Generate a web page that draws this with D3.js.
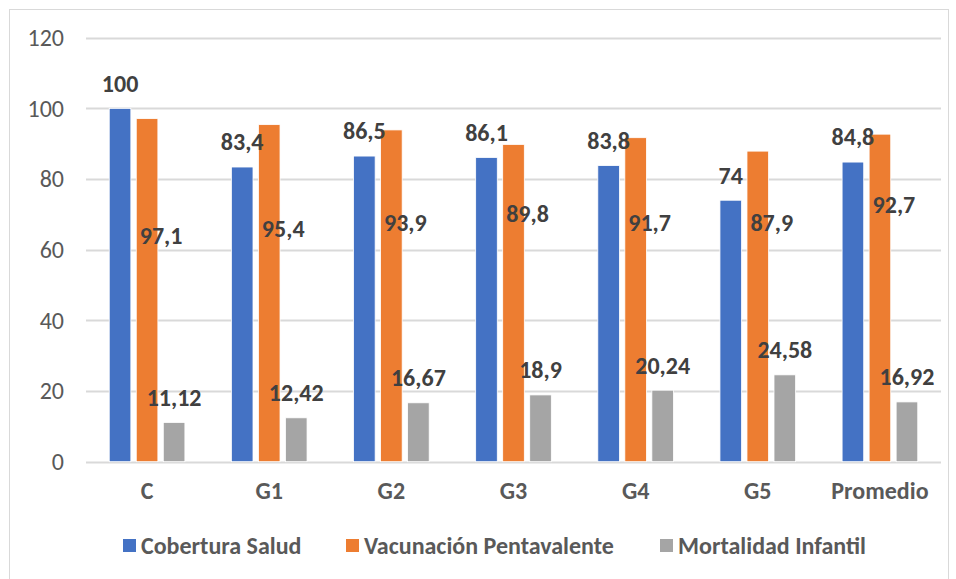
<!DOCTYPE html>
<html>
<head>
<meta charset="utf-8">
<script src="https://cdn.jsdelivr.net/npm/d3@7"></script>
<style>
  body { margin: 0; background: #fff; }
  text { font-family: Carlito, Lato, "Open Sans", sans-serif; }
</style>
</head>
<body>
<svg width="956" height="579"></svg>
<script>
// data
const categories = ["C", "G1", "G2", "G3", "G4", "G5", "Promedio"];
const seriesNames = ["Cobertura Salud", "Vacunación Pentavalente", "Mortalidad Infantil"];
const cobertura = [100, 83.4, 86.5, 86.1, 83.8, 74, 84.8];
const vacunacion = [97.1, 95.4, 93.9, 89.8, 91.7, 87.9, 92.7];
const mortalidad = [11.12, 12.42, 16.67, 18.9, 20.24, 24.58, 16.92];
// where the orange labels were dragged to (in axis units)
const vacunacionLabelAt = [63.9, 66.1, 67.8, 70.1, 67.8, 67.6, 72.9];
const yTicks = [0, 20, 40, 60, 80, 100, 120];

const colors = ["#4472C4", "#ED7D31", "#A5A5A5"];
const seriesValues = [cobertura, vacunacion, mortalidad];
const fontSize = "24px";

const svg = d3.select("svg");

// chart frame
svg.append("rect")
  .attr("x", 9.5).attr("y", 9.5)
  .attr("width", 939).attr("height", 580)
  .attr("fill", "none")
  .attr("stroke", "#d9d9d9");

const x0 = d3.scaleBand()
  .domain(categories)
  .range([86, 941]);

const x1 = d3.scaleBand()
  .domain(seriesNames)
  .range([0, x0.bandwidth()])
  .paddingInner(0.2)
  .paddingOuter(0.86);

const y = d3.scaleLinear()
  .domain([0, 120])
  .range([461.7, 37.7]);

// gridlines
svg.append("g")
  .selectAll("line")
  .data(yTicks)
  .enter()
  .append("line")
  .attr("x1", 86).attr("x2", 941)
  .attr("y1", (d) => Math.round(y(d)) + 0.5)
  .attr("y2", (d) => Math.round(y(d)) + 0.5)
  .attr("stroke", "#d9d9d9")
  .attr("stroke-width", 2);

// y axis labels
const yAxis = svg.append("g")
  .attr("transform", "translate(64,0)")
  .call(d3.axisLeft(y).tickValues(yTicks).tickSize(0).tickPadding(0));
yAxis.select(".domain").remove();
yAxis.selectAll("text")
  .attr("fill", "#595959")
  .style("font-size", fontSize);

// x axis labels
const xAxis = svg.append("g")
  .attr("transform", "translate(0,461.7)")
  .call(d3.axisBottom(x0).tickSize(0).tickPadding(20));
xAxis.select(".domain").remove();
xAxis.selectAll("text")
  .attr("fill", "#595959")
  .style("font-size", fontSize)
  .style("font-weight", "bold");

// bars
const rows = categories.map((c, i) => ({
  cat: c,
  vals: seriesNames.map((s, k) => ({ key: s, k: k, value: seriesValues[k][i], i: i })),
}));

const groups = svg.append("g")
  .selectAll("g")
  .data(rows)
  .enter()
  .append("g")
  .attr("transform", (d) => `translate(${x0(d.cat)},0)`);

groups.selectAll("rect")
  .data((d) => d.vals)
  .enter()
  .append("rect")
  .attr("x", (d) => x1(d.key))
  .attr("y", (d) => y(d.value))
  .attr("width", x1.bandwidth())
  .attr("height", (d) => y(0) - y(d.value))
  .attr("fill", (d) => colors[d.k])
  .attr("stroke", "#fff")
  .attr("stroke-width", 0.8);

// data labels
groups.selectAll("text")
  .data((d) => d.vals)
  .enter()
  .append("text")
  .attr("x", (d) => x1(d.key) + x1.bandwidth() / 2 + (d.k === 1 ? 14 : 0))
  .attr("y", (d) => (d.k === 1 ? y(vacunacionLabelAt[d.i]) : y(d.value) - 25))
  .attr("dy", "0.35em")
  .attr("text-anchor", "middle")
  .attr("fill", "#404040")
  .style("font-size", fontSize)
  .style("font-weight", "bold")
  .text((d) => String(d.value).replace(".", ","));

// legend
const legendX = [123, 346, 660];
const legend = svg.append("g")
  .selectAll("g")
  .data(seriesNames)
  .enter()
  .append("g")
  .attr("transform", (d, i) => `translate(${legendX[i]},539)`);

legend.append("rect")
  .attr("width", 13).attr("height", 13)
  .attr("fill", (d, i) => colors[i]);

legend.append("text")
  .attr("x", 18)
  .attr("y", 7)
  .attr("dy", "0.35em")
  .attr("fill", "#595959")
  .style("font-size", fontSize)
  .style("font-weight", "bold")
  .text((d) => d);
</script>
</body>
</html>
